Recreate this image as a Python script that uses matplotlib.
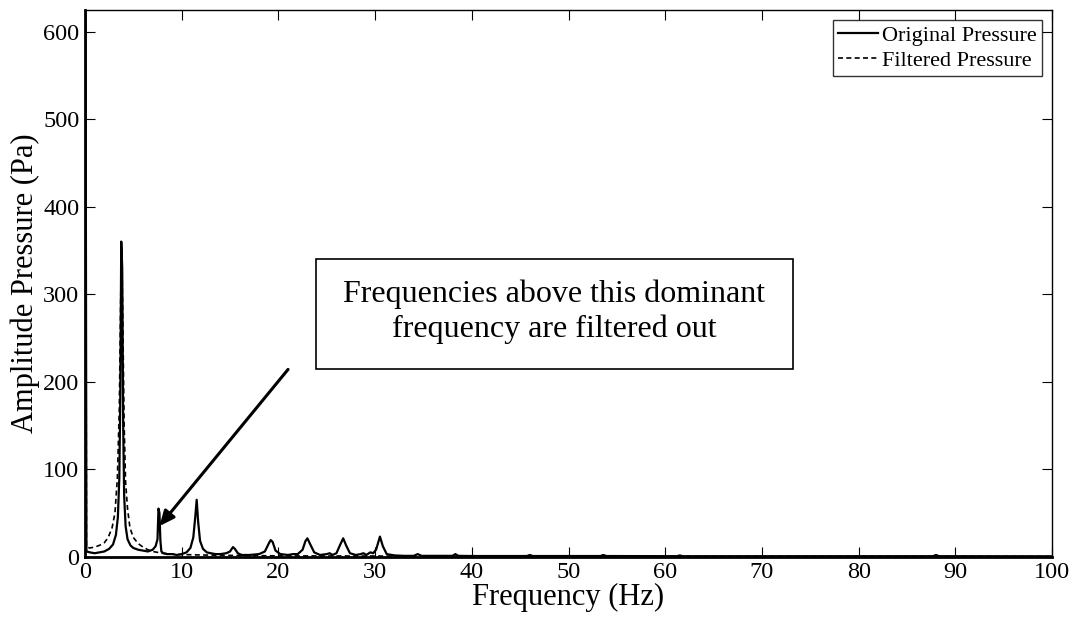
import numpy as np
from matplotlib import pyplot as plt
from matplotlib.patches import Rectangle

# MATLAB-ish look, Times-like font
plt.rcParams.update({"font.family": "Liberation Serif",
                     "mathtext.fontset": "stix",
                     "axes.linewidth": 1.0,
                     "xtick.direction": "in",
                     "ytick.direction": "in",
                     "xtick.top": True,
                     "ytick.right": True,
                     "xtick.major.size": 7,
                     "ytick.major.size": 7})

# %% spectrum values
orig_freq = [0, 0.15, 0.5, 1.0, 1.5, 2.0, 2.5, 2.9, 3.2, 3.4, 3.55, 3.65, 3.75,
             3.85, 3.95, 4.05, 4.2, 4.4, 4.7, 5.0, 5.5, 6.0, 6.5, 7.0, 7.3, 7.5,
             7.6, 7.7, 7.8, 7.9, 8.1, 8.5, 9.0, 9.5, 10.0, 10.5, 10.9, 11.2, 11.4,
             11.55, 11.7, 11.9, 12.2, 12.6, 13.0, 13.5, 14.0, 14.6, 15.0, 15.3,
             15.5, 15.8, 16.2, 17.0, 18.0, 18.6, 19.0, 19.2, 19.4, 19.7, 20.2,
             21.0, 21.5, 22.0, 22.5, 22.8, 23.0, 23.3, 23.7, 24.3, 25.0, 25.3,
             25.6, 26.0, 26.4, 26.7, 27.0, 27.4, 28.0, 28.5, 28.8, 29.1, 29.5,
             29.8, 30.1, 30.5, 30.8, 31.2, 32.0, 33.0, 34.0, 34.4, 34.8, 36.0,
             38.0, 38.3, 38.6, 40.0, 45.7, 46.0, 46.3, 53.3, 53.6, 53.9, 61.2,
             61.5, 61.8, 87.7, 88.0, 88.3, 100.0]
orig_amp = [1000, 6, 5, 4, 5, 6, 9, 14, 25, 45, 90, 180, 360,
            330, 150, 70, 35, 20, 13, 10, 8, 7, 6, 8, 12, 20,
            55, 50, 18, 6, 4, 3, 3, 2, 3, 5, 10, 22, 45,
            65, 40, 18, 9, 5, 4, 3, 3, 4, 6, 11,
            9, 4, 2, 2, 3, 6, 15, 19, 17, 7, 3,
            2, 3, 3, 8, 18, 21, 14, 5, 2, 3, 4,
            2, 4, 14, 21, 13, 4, 2, 3, 4, 2, 5,
            4, 8, 23, 12, 3, 1.5, 1, 1, 3, 1, 1,
            1, 3, 1, 0.8, 0.8, 2, 0.8, 0.8, 2, 0.8, 0.6,
            1.5, 0.6, 0.6, 2, 0.6, 0.5]

filt_freq = [0, 0.15, 0.5, 1.0, 1.5, 2.0, 2.4, 2.8, 3.1, 3.35, 3.55, 3.7, 3.8,
             3.9, 4.05, 4.2, 4.4, 4.65, 5.0, 5.5, 6.0, 6.5, 7.0, 8.0, 9.0, 10.0,
             12.0, 15.0, 20.0, 30.0, 50.0, 100.0]
filt_amp = [1000, 11, 10, 11, 13, 16, 22, 33, 50, 90, 170, 300, 350,
            280, 150, 85, 55, 33, 22, 15, 11, 8, 6, 4, 3, 2.5,
            2, 1.5, 1, 0.8, 0.5, 0.3]

note_text = 'Frequencies above this dominant\nfrequency are filtered out'

# %% plot
fig = plt.figure(figsize=(10.73, 6.21), dpi=100)
ax = fig.add_axes([0.0792, 0.1035, 0.9013, 0.881])

ax.plot(orig_freq, orig_amp, color='k', linewidth=1.6, label='Original Pressure')
ax.plot(filt_freq, filt_amp, color='k', linewidth=1.2, linestyle=(0, (3, 2)),
        label='Filtered Pressure')

ax.set_xlim(0, 100)
ax.set_ylim(0, 625)
ax.set_xticks(np.arange(0, 101, 10))
ax.set_yticks(np.arange(0, 601, 100))
ax.tick_params(labelsize=17.5, width=0.8, pad=4)
ax.set_xlabel('Frequency (Hz)', fontsize=22, labelpad=0)
ax.set_ylabel('Amplitude Pressure (Pa)', fontsize=22, labelpad=2)
ax.spines['left'].set_linewidth(2.0)
ax.spines['bottom'].set_linewidth(2.0)

leg = ax.legend(loc='upper right', fontsize=16, frameon=True, fancybox=False,
                handlelength=1.8, handletextpad=0.15, borderpad=0.25,
                labelspacing=0.2, borderaxespad=0.45)
leg.get_frame().set_edgecolor('k')
leg.get_frame().set_linewidth(1.0)

# annotation box and arrow
ax.add_patch(Rectangle((23.85, 215), 49.35, 125, fill=False, edgecolor='k',
                       linewidth=1.2))
ax.text(48.5, 280, note_text, ha='center', va='center', fontsize=23,
        multialignment='center', linespacing=1.25)
ax.annotate('', xy=(7.7, 35), xytext=(21.0, 214),
            arrowprops=dict(arrowstyle='-|>,head_length=0.9,head_width=0.4',
                            color='k', linewidth=2.2, shrinkA=0, shrinkB=0))

fig.savefig('out.png', dpi=100)
